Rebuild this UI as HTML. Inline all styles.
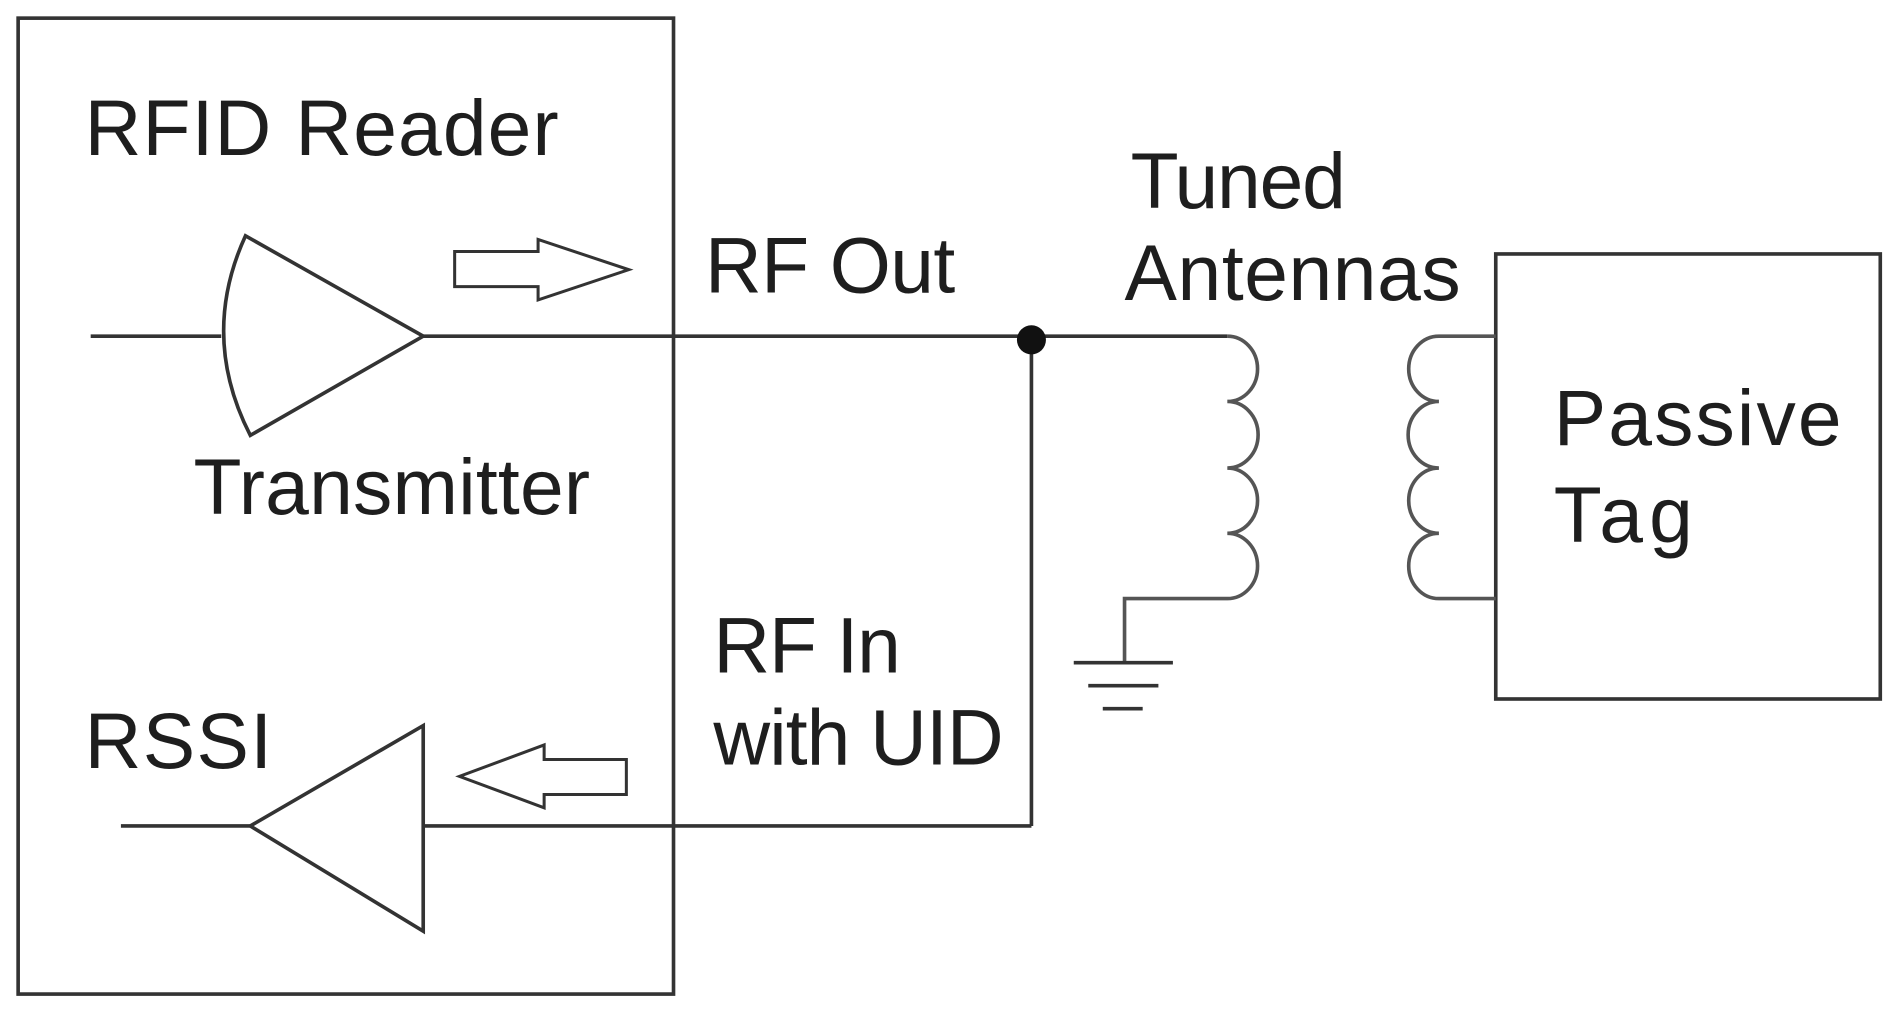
<!DOCTYPE html>
<html><head><meta charset="utf-8"><style>
html,body{margin:0;padding:0;background:#fff;}
svg{display:block;}
text{font-family:"Liberation Sans",Arial,sans-serif;fill:#1e1e1e;font-size:65px;}
</style></head><body>
<svg width="1896" height="1011" viewBox="0 0 1568 836" preserveAspectRatio="none" xmlns="http://www.w3.org/2000/svg">
<g fill="none" stroke="#333" stroke-width="3">
<rect x="15" y="15" width="542" height="807"/>
<rect x="1237" y="210" width="318" height="368"/>
<line x1="75" y1="278" x2="183" y2="278"/>
<path d="M203,195 Q165,278 207,360 L350,278 Z"/>
<line x1="350" y1="278" x2="1015" y2="278"/>
<line x1="853" y1="278" x2="853" y2="683"/>
<line x1="853" y1="683" x2="350" y2="683"/>
<path d="M350,600 L350,770 L207,683 Z"/>
<line x1="207" y1="683" x2="100" y2="683"/>
<path d="M376,208 L445,208 L445,198 L520,223 L445,248 L445,237 L376,237 Z" stroke-width="2.5"/>
<path d="M518,628 L450,628 L450,616 L380,642 L450,668 L450,657 L518,657 Z" stroke-width="2.5"/>
<path d="M1015,278 A25,27 0 0 1 1015,332 A25,27 0 0 1 1015,387 A25,27 0 0 1 1015,441 A25,27 0 0 1 1015,495 L930,495 L930,548" stroke="#555"/>
<line x1="888" y1="548" x2="970" y2="548"/>
<line x1="900" y1="567" x2="958" y2="567"/>
<line x1="912" y1="586" x2="945" y2="586"/>
<path d="M1237,278 L1190,278 A25,27 0 0 0 1190,332 A25,27 0 0 0 1190,387 A25,27 0 0 0 1190,441 A25,27 0 0 0 1190,495 L1237,495" stroke="#555"/>
</g>
<circle cx="853" cy="281" r="12" fill="#111"/>
<text x="70" y="128" textLength="392">RFID Reader</text>
<text x="160" y="425" textLength="328">Transmitter</text>
<text x="583" y="242" textLength="207">RF Out</text>
<text x="70" y="635" textLength="155">RSSI</text>
<text x="590" y="556" textLength="155">RF In</text>
<text x="590" y="632" textLength="240">with UID</text>
<text x="935" y="172" textLength="178">Tuned</text>
<text x="930" y="248" textLength="278">Antennas</text>
<text x="1285" y="368" textLength="238">Passive</text>
<text x="1285" y="448" textLength="115">Tag</text>
</svg>
</body></html>
